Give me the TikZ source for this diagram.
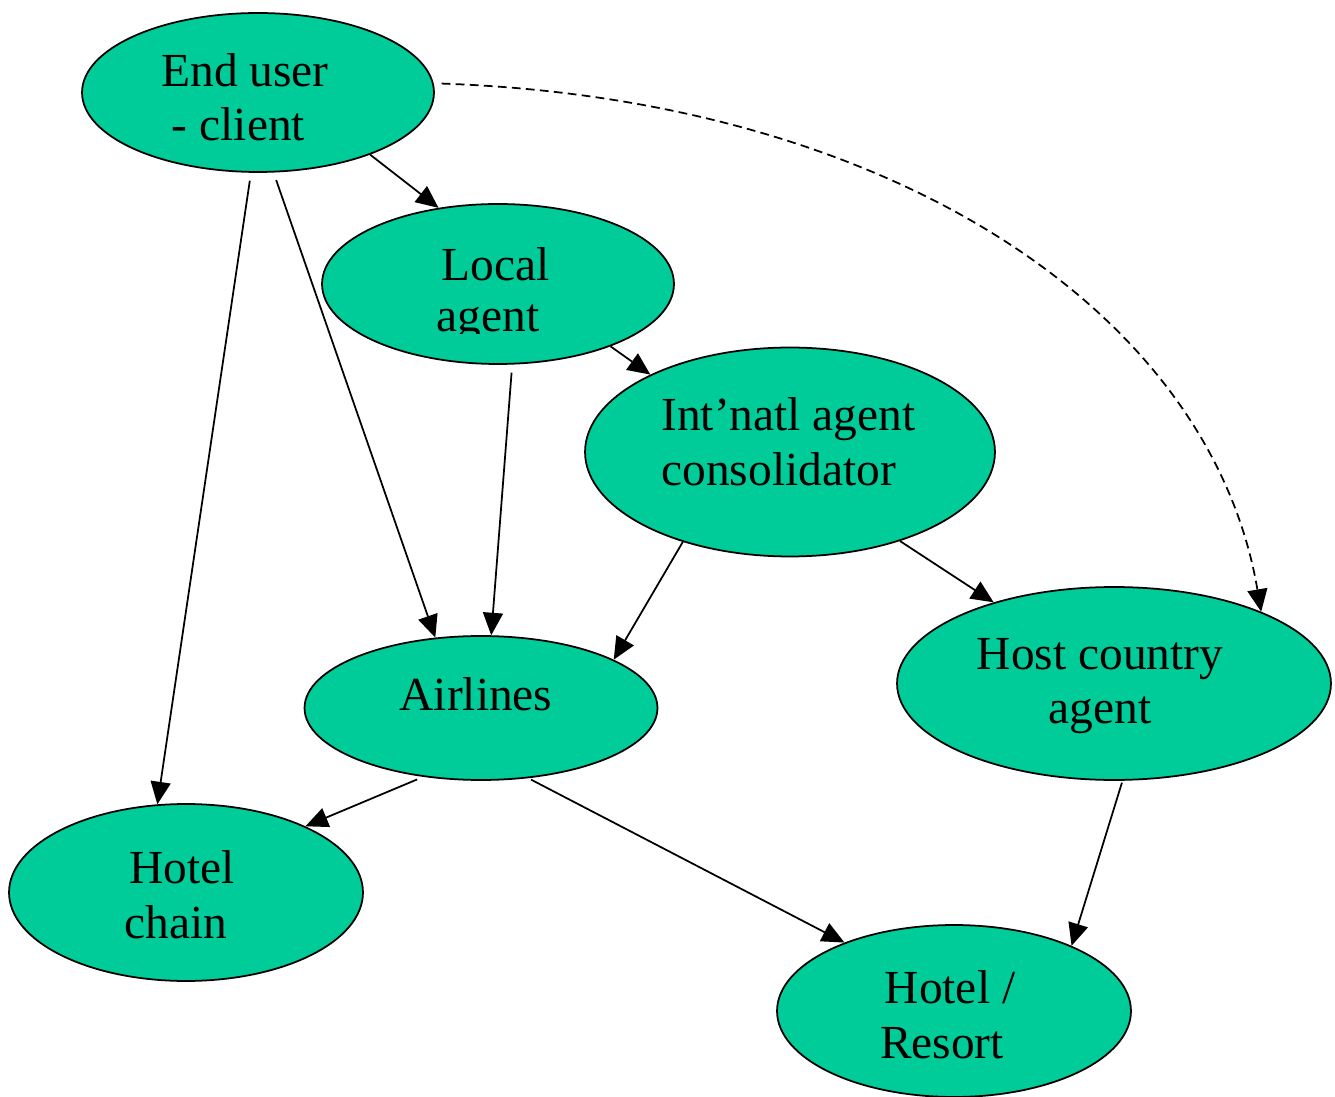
\documentclass[tikz,border=0pt]{standalone}
\usepackage{fontspec}
\setmainfont{Liberation Serif}
\usetikzlibrary{arrows.meta,shapes.geometric}
\definecolor{nodegreen}{RGB}{0,204,153}
\begin{document}
\begin{tikzpicture}[x=0.02cm,y=-0.02cm,
  blob/.style={ellipse, draw=black, line width=1pt, fill=nodegreen, inner sep=0pt},
  lbl/.style={inner sep=0pt, font=\fontsize{27}{32}\selectfont, anchor=base},
  lbll/.style={lbl, anchor=base west},
  conn/.style={line width=1pt, -{Triangle[length=0.45cm,width=0.4cm]}},
  dashconn/.style={conn, dash pattern=on 5pt off 3pt}
]
\useasboundingbox (0,0) rectangle (1335,1097);
% ellipses
\node[blob, minimum width=7.04cm, minimum height=3.18cm] (eu) at (258,92.5) {};
\node[blob, minimum width=7.04cm, minimum height=3.2cm] (la) at (498,284) {};
\node[blob, minimum width=8.2cm, minimum height=4.18cm] (ia) at (790,452) {};
\node[blob, minimum width=7.06cm, minimum height=2.88cm] (ai) at (481,708) {};
\node[blob, minimum width=8.68cm, minimum height=3.86cm] (hc) at (1114,683.5) {};
\node[blob, minimum width=7.08cm, minimum height=3.54cm] (ch) at (186,892.5) {};
\node[blob, minimum width=7.08cm, minimum height=3.44cm] (hr) at (954,1011) {};
% labels
\node[lbl] (eu1) at (245,87) {End user};
\node[lbl] (eu2) at (238.5,141) {- client};
\node[lbl] (la1) at (495.5,281) {Local};
\begin{scope}
\clip (320,290) rectangle (680,334);
\node[lbl] (la2) at (488,332) {agent};
\end{scope}
\node[lbll] (ia1) at (661,431) {Int’natl agent};
\node[lbll] (ia2) at (661,486) {consolidator};
\node[lbl] (ai1) at (476,710) {Airlines};
\node[lbl] (hc1) at (1100,669) {Host country};
\node[lbl] (hc2) at (1100,723) {agent};
\node[lbl] (ch1) at (182,883) {Hotel};
\node[lbl] (ch2) at (176,938) {chain};
\node[lbl] (hr1) at (950,1003) {Hotel /};
\node[lbl] (hr2) at (942,1058) {Resort};
% connectors
\draw[conn] (eu.-29.7) -- (la.128.7);
\draw[conn, shorten <=0.16cm] (eu.-79.7) -- (ai.123.7);
\draw[conn, shorten <=0.16cm] (eu.-95.8) -- (ch.108.6);
\draw[dashconn, shorten <=0.16cm] (eu.3.2) .. controls +(458,16) and +(-51,-300) .. (hc.26.6);
\draw[conn] (la.-29.7) -- (ia.151.4);
\draw[conn, shorten <=0.16cm] (la.-80.3) -- (ai.82.9);
\draw[conn] (ia.-140.8) -- (ai.20.9);
\draw[conn] (ia.-39.2) -- (hc.146.5);
\draw[conn, shorten <=0.13cm] (ai.-130.8) -- (ch.29.3);
\draw[conn, shorten <=0.06cm] (ai.-56.3) -- (hr.148.9);
\draw[conn, shorten <=0.04cm] (hc.-85.9) -- (hr.29.4);
\end{tikzpicture}
\end{document}
